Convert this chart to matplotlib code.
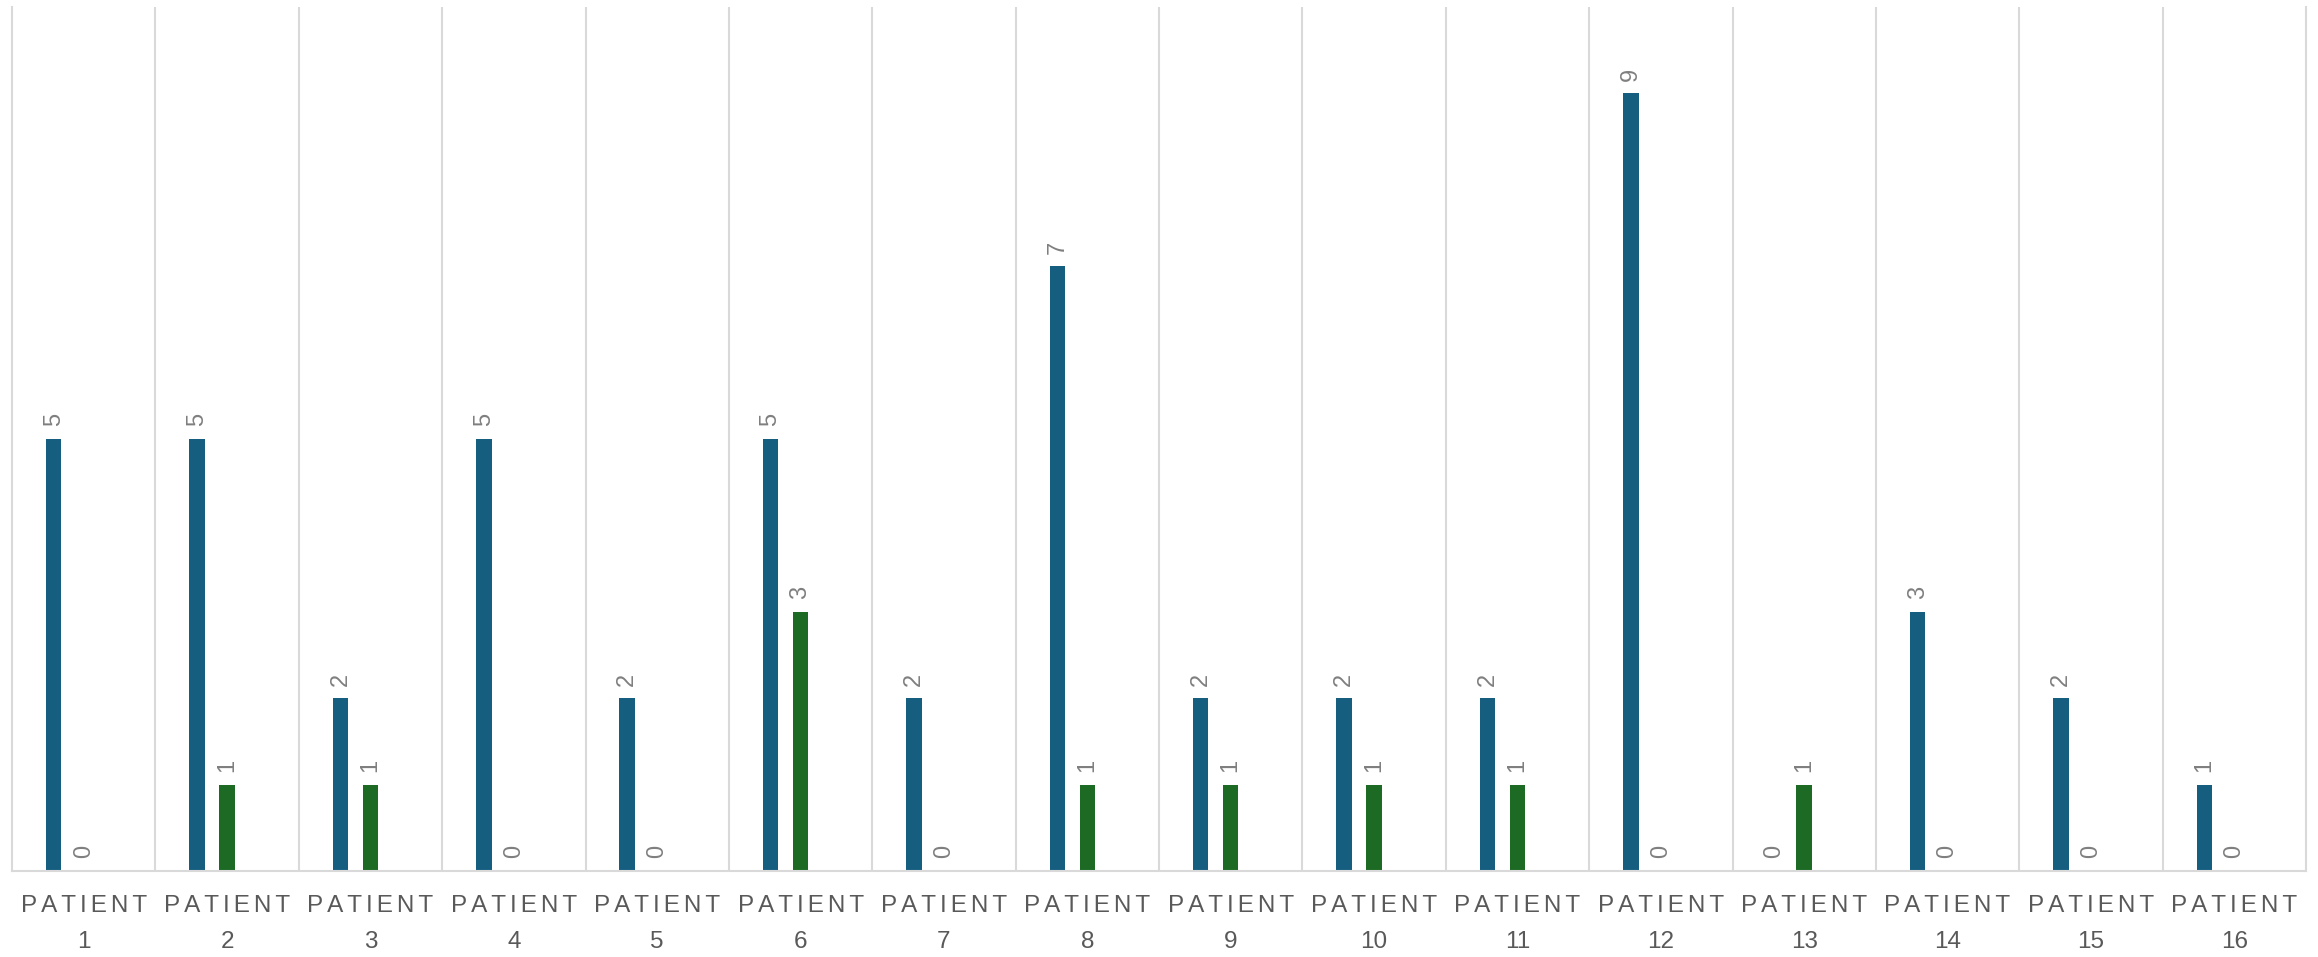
import numpy as np
import matplotlib.pyplot as plt

patients = [str(i) for i in range(1, 17)]
series_a = [5, 5, 2, 5, 2, 5, 2, 7, 2, 2, 2, 9, 0, 3, 2, 1]
series_b = [0, 1, 1, 0, 0, 3, 0, 1, 1, 1, 1, 0, 1, 0, 0, 0]

blue = '#165e80'
green = '#1c6a24'
grid_col = '#d9d9d9'

plt.rcParams['font.family'] = ['Liberation Sans', 'DejaVu Sans']

def spaced(word, sep='\u2006'):
    # letter tracking via six-per-em spaces
    return sep.join(word)

fig = plt.figure(figsize=(23.18, 9.57), dpi=100)
ax = fig.add_axes([12/2318, 1-871/957, (2306-12)/2318, (871-7)/957])

x = np.arange(len(patients))
w = 0.108
step = 0.209

bars_a = ax.bar(x - step, series_a, w, color=blue)
bars_b = ax.bar(x, series_b, w, color=green)

for bars in (bars_a, bars_b):
    for b in bars:
        h = b.get_height()
        ax.annotate(str(int(h)), (b.get_x() + b.get_width()/2, h),
                    xytext=(0, 9), textcoords='offset points',
                    rotation=90, ha='center', va='bottom',
                    fontsize=17, color='#7f7f7f')

ax.set_xlim(-0.5, len(patients) - 0.5)
ax.set_ylim(0, 10)
ax.set_yticks([])
ax.set_xticks(x)
ax.set_xticklabels([spaced('PATIENT') + '\n' + p for p in patients],
                   fontsize=17.5, color='#595959', linespacing=1.85)
ax.tick_params(axis='x', length=0, pad=17)

ax.set_xticks(np.arange(0.5, len(patients) - 1, 1), minor=True)
ax.tick_params(axis='x', which='minor', length=0)
ax.grid(which='minor', axis='x', color=grid_col, linewidth=1.5)
ax.set_axisbelow(True)

for side in ('left', 'right', 'bottom'):
    ax.spines[side].set_color(grid_col)
    ax.spines[side].set_linewidth(1.5)
ax.spines['top'].set_visible(False)

fig.savefig('out.png', dpi=100)
